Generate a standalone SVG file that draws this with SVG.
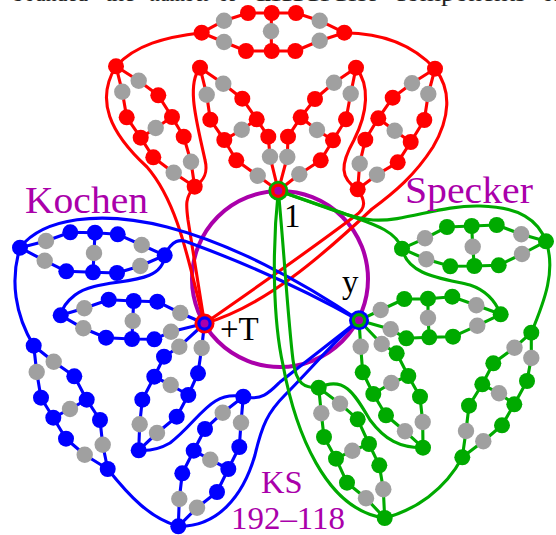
<svg xmlns="http://www.w3.org/2000/svg" width="556" height="535" viewBox="0 0 556 535">
<style>
.e{fill:none;stroke-width:3.1;stroke-linecap:round;stroke-linejoin:round}
.re{stroke:#f00}.be{stroke:#00f}.ge{stroke:#0a0}
.r{fill:#f00}.b{fill:#00f}.g{fill:#0a0}.n{fill:#a0a0a0}.p{fill:#a0a}
.nodes circle{r:8px}.nodes .n{r:8.2px}
text{font-family:"Liberation Serif","Times New Roman",serif}
.top{font-size:23px;fill:#222}
.lab{font-size:38.5px;fill:#a0a}
.ks{font-size:32.5px;fill:#a0a}
.t{font-size:33px;fill:#000}
</style>
<rect width="556" height="535" fill="#fff"/>
<g id="page-text">
<text class="top" x="13" y="0.8" textLength="75" lengthAdjust="spacingAndGlyphs">bounded</text>
<text class="top" x="105" y="0.8" textLength="30" lengthAdjust="spacingAndGlyphs">the</text>
<text class="top" x="150" y="0.8" textLength="60" lengthAdjust="spacingAndGlyphs">number</text>
<text class="top" x="218" y="0.8" textLength="18" lengthAdjust="spacingAndGlyphs">of</text>
<text class="top" x="253" y="0.8" textLength="123" lengthAdjust="spacingAndGlyphs">different</text>
<text class="top" x="394" y="0.8" textLength="132" lengthAdjust="spacingAndGlyphs">components</text>
<text class="top" x="542" y="0.8">of</text>
</g>
<circle id="circle" cx="280" cy="279" r="88" fill="none" stroke="#a0a" stroke-width="4"/>
<g id="connectors">
<g id="red-edges" class="e re">
<path d="M201.7 32.7L224 20.7L248 13L271.7 13L296 13L319.7 20.7L344.3 32.7M201.7 32.7L224 42L246 51L271.7 51L295.3 51L319.7 40.7L344.3 32.7M271.7 13L271 31.3L271.7 51"/>
<path d="M116 66.3L138.7 80.7L158.3 95.3L172 117L183.7 136.7L191 161.7L194.7 186.7M116 66.3L122.3 91.7L126.7 117.3L140.7 137.7L153.3 157.3L173.7 172.7L194.7 186.7M172 117L155.7 128L140.7 137.7"/>
<path d="M200 67.7L223.3 83.7L242.3 98.7L256.7 119.3L268.3 136.7L270 156.7L278.3 190.7M200 67.7L206.7 94.7L210.3 119.7L224.3 140L236.3 160.3L257.7 175.7L278.3 190.7M256.7 119.3L241.7 129.7L224.3 140"/>
<path d="M356 67.7L334 82.7L315 99L300.7 117.3L288 136.7L287.3 157L278.3 190.7M356 67.7L350.7 93.7L346 119.3L333 140.3L320.7 160.3L299.3 174.3L278.3 190.7M300.7 117.3L317 130L333 140.3"/>
<path d="M435 68.7L412 83.3L392.7 97.7L378.3 118.3L365.3 139.7L359.7 163.7L357.7 189.3M435 68.7L428.3 94L424.3 120L410.7 142L397.7 162.3L377 174.7L357.7 189.3M378.3 118.3L394.7 130.7L410.7 142"/>
<path d="M201.7 32.7C165 37 135 45 116 66.3"/>
<path d="M344.3 32.7C385 33 415 47 435 68.7"/>
<path d="M116 66.3C95 100 110 133 147 167C180 205 190 270 204.5 323.5"/>
<path d="M194.7 186.7C185 197 186 205 188 220L204.5 323.5"/>
<path d="M200 67.7C186 85 197 123 205 160C208 172 205 180 194.7 186.7"/>
<path d="M356 67.7C370 85 368 112 354 140C340 165 340 178 357.7 189.3"/>
<path d="M435 68.7C452 90 450 118 433 147C415 175 395 192 372 209C322 256 265 306 204.5 323.5"/>
<path d="M357.7 189.3C365 200 367 208 355 216C310 250 260 285 204.5 323.5"/>
</g>
<g id="blue-edges" class="e be">
<path d="M20 247.700L46 241L70.300 232.300L95 232.700L117.700 234.300L141.700 245L164.700 255.300M20 247.700L44.700 260.700L66.300 271.300L93 272.300L117 273L140.300 266L164.700 255.300M95 232.700L94 253L93 272.300"/>
<path d="M60.700 315.300L84.300 308.300L108.700 299.700L133.700 301L157.300 301.700L180.300 313L204.500 323.500M60.700 315.300L83.300 328.300L106 337.700L132 339L154.300 339.300L171 331.700L204.500 323.500M133.700 301L132.700 321L132 339"/>
<path d="M204.500 323.500L179.300 346.700L164 356.700L154.300 376.700L142.300 399.700L139.700 424.300L138.700 450.300M204.500 323.500L201.700 348L198 373.300L188.300 395L176.700 416.700L157 433L138.700 450.300M154.300 376.700L170.700 385L188.300 395"/>
<path d="M243.300 396.700L222.700 412.700L205 429L193.700 450.700L182.300 473.300L179.300 499L178.300 526.300M243.300 396.700L241 422.700L239.300 447L228.300 469L217 492L197 507.700L178.300 526.300M193.700 450.700L210.300 459.700L228.300 469"/>
<path d="M33.700 345.700L53.700 361.700L74.300 376.300L86.700 399.700L100 420L102.700 444.700L107.700 469M33.700 345.700L36.700 372L41 397.700L53.300 417.700L66 438.700L84.700 454.700L107.700 469M86.700 399.700L70 409L53.300 417.700"/>
<path d="M20 247.700C43 218 100 210 167 227C230 243 300 280 359 320.300"/>
<path d="M164.700 255.300C172 240 180 238 190 243C250 265 305 290 359 320.300"/>
<path d="M164.700 255.300C162 290 100 275 75 295C66 302 62 308 60.700 315.300"/>
<path d="M20 247.700C10 280 15 315 33.700 345.700"/>
<path d="M107.700 469C130 497 150 518 178.300 526.300"/>
<path d="M178.300 526.300C217 527 243 497 255 455C262 425 268 412 285 395C310 370 335 340 359 320.300"/>
<path d="M243.300 396.700C210 390 200 420 170 443C158 450 148 451 138.700 450.300"/>
<path d="M243.300 396.700C262 401 270 392 280 382L359 320.300"/>
</g>
<g id="green-edges" class="e ge">
<path d="M402 248.700L425 238.300L447 227L471.700 226L496.700 225L521.300 234.300L546 241.300M402 248.700L426.300 259.300L450.300 266.300L474.300 266L498.700 265.300L522 254L546 241.300M471.700 226L472.700 246.700L474.300 266"/>
<path d="M359 320.300L380.700 310L404.300 299L428 298.700L452.300 296.700L476.300 305.300L500.700 314.300M359 320.300L390.700 329.300L406.300 338.300L429.300 337.300L453 336.700L477.300 325.700L500.700 314.300M428 298.700L428 318L429.300 337.300"/>
<path d="M359 320.300L381.700 344L396.700 353.300L408.300 376L420 396.700L422.700 422L423 447.700M359 320.300L360.700 346.700L362.700 372.300L373.300 394L386 415.300L405 431.300L423 447.700M408.300 376L391.300 383L373.300 394"/>
<path d="M318.700 387.700L340 403.700L357.700 419.300L369 444L379.300 465.300L383.300 489.300L384.700 518M318.700 387.700L321.300 413.300L324 437L336 458.700L347 482.700L366 498.300L384.700 518M369 444L352.300 450.700L336 458.700"/>
<path d="M531.300 332.700L514.500 347.700L493.300 363.300L482.300 384.300L469 405.700L466 431L462.300 457.300M531.300 332.700L531.300 358L527 381L514.300 404.300L502 425.300L483.300 441.300L462.300 457.300M482.300 384.300L499 393.300L514.300 404.300"/>
<path d="M278.300 190.700C320 205 350 218 373 220C405 222 440 205 480 206C520 207 538 220 546 241.300"/>
<path d="M278.300 190.700L340 212C365 222 395 228 402 248.700"/>
<path d="M402 248.700C408 275 440 278 470 285C485 290 495 300 500.700 314.300"/>
<path d="M546 241.300C556 270 545 300 531.300 332.700"/>
<path d="M462.300 457.300C445 490 415 510 384.700 518"/>
<path d="M278.300 190.700C272 250 273 320 283 365C295 430 325 510 384.700 518"/>
<path d="M278.300 190.700C284 250 288 320 293 360C296 385 305 388 318.700 387.700"/>
<path d="M318.700 387.700C345 375 355 395 370 420C385 440 400 448 423 447.700"/>
</g>
</g>
<g id="red-nodes" class="nodes">
<g id="rt1"><circle class="r" cx="201.700" cy="32.700"/></g>
<g id="rt2"><circle class="r" cx="344.300" cy="32.700"/></g>
<g id="rt3"><circle class="n" cx="224" cy="20.700"/></g>
<g id="rt4"><circle class="r" cx="248" cy="13"/></g>
<g id="rt5"><circle class="r" cx="271.700" cy="13"/></g>
<g id="rt6"><circle class="r" cx="296" cy="13"/></g>
<g id="rt7"><circle class="n" cx="319.700" cy="20.700"/></g>
<g id="rt8"><circle class="n" cx="224" cy="42"/></g>
<g id="rt9"><circle class="r" cx="246" cy="51"/></g>
<g id="rt10"><circle class="r" cx="271.700" cy="51"/></g>
<g id="rt11"><circle class="r" cx="295.300" cy="51"/></g>
<g id="rt12"><circle class="n" cx="319.700" cy="40.700"/></g>
<g id="rt13"><circle class="n" cx="271" cy="31.300"/></g>
<g id="rl1"><circle class="r" cx="116" cy="66.300"/></g>
<g id="rl2"><circle class="n" cx="138.700" cy="80.700"/></g>
<g id="rl3"><circle class="n" cx="122.300" cy="91.700"/></g>
<g id="rl4"><circle class="r" cx="158.300" cy="95.300"/></g>
<g id="rl5"><circle class="r" cx="126.700" cy="117.300"/></g>
<g id="rl6"><circle class="r" cx="172" cy="117"/></g>
<g id="rl7"><circle class="n" cx="155.700" cy="128"/></g>
<g id="rl8"><circle class="r" cx="140.700" cy="137.700"/></g>
<g id="rl9"><circle class="r" cx="183.700" cy="136.700"/></g>
<g id="rl10"><circle class="r" cx="153.300" cy="157.300"/></g>
<g id="rl11"><circle class="n" cx="191" cy="161.700"/></g>
<g id="rl12"><circle class="n" cx="173.700" cy="172.700"/></g>
<g id="rl13"><circle class="r" cx="194.700" cy="186.700"/></g>
<g id="rc1"><circle class="r" cx="200" cy="67.700"/></g>
<g id="rc2"><circle class="n" cx="223.300" cy="83.700"/></g>
<g id="rc3"><circle class="n" cx="206.700" cy="94.700"/></g>
<g id="rc4"><circle class="r" cx="242.300" cy="98.700"/></g>
<g id="rc5"><circle class="r" cx="210.300" cy="119.700"/></g>
<g id="rc6"><circle class="r" cx="256.700" cy="119.300"/></g>
<g id="rc7"><circle class="n" cx="241.700" cy="129.700"/></g>
<g id="rc8"><circle class="r" cx="224.300" cy="140"/></g>
<g id="rc9"><circle class="r" cx="268.300" cy="136.700"/></g>
<g id="rc10"><circle class="r" cx="236.300" cy="160.300"/></g>
<g id="rc11"><circle class="n" cx="270" cy="156.700"/></g>
<g id="rc12"><circle class="n" cx="257.700" cy="175.700"/></g>
<g id="rd1"><circle class="r" cx="356" cy="67.700"/></g>
<g id="rd2"><circle class="n" cx="334" cy="82.700"/></g>
<g id="rd3"><circle class="n" cx="350.700" cy="93.700"/></g>
<g id="rd4"><circle class="r" cx="315" cy="99"/></g>
<g id="rd5"><circle class="r" cx="346" cy="119.300"/></g>
<g id="rd6"><circle class="r" cx="300.700" cy="117.300"/></g>
<g id="rd7"><circle class="n" cx="317" cy="130"/></g>
<g id="rd8"><circle class="r" cx="333" cy="140.300"/></g>
<g id="rd9"><circle class="r" cx="288" cy="136.700"/></g>
<g id="rd10"><circle class="r" cx="320.700" cy="160.300"/></g>
<g id="rd11"><circle class="n" cx="287.300" cy="157"/></g>
<g id="rd12"><circle class="n" cx="299.300" cy="174.300"/></g>
<g id="rr1"><circle class="r" cx="435" cy="68.700"/></g>
<g id="rr2"><circle class="n" cx="412" cy="83.300"/></g>
<g id="rr3"><circle class="n" cx="428.300" cy="94"/></g>
<g id="rr4"><circle class="r" cx="392.700" cy="97.700"/></g>
<g id="rr5"><circle class="r" cx="424.300" cy="120"/></g>
<g id="rr6"><circle class="r" cx="378.300" cy="118.300"/></g>
<g id="rr7"><circle class="n" cx="394.700" cy="130.700"/></g>
<g id="rr8"><circle class="r" cx="410.700" cy="142"/></g>
<g id="rr9"><circle class="r" cx="365.300" cy="139.700"/></g>
<g id="rr10"><circle class="r" cx="397.700" cy="162.300"/></g>
<g id="rr11"><circle class="n" cx="359.700" cy="163.700"/></g>
<g id="rr12"><circle class="n" cx="377" cy="174.700"/></g>
<g id="rr13"><circle class="r" cx="357.700" cy="189.300"/></g>
</g>
<g id="blue-nodes" class="nodes">
<g id="ba1"><circle class="b" cx="20" cy="247.700"/></g>
<g id="ba2"><circle class="n" cx="46" cy="241"/></g>
<g id="ba3"><circle class="n" cx="44.700" cy="260.700"/></g>
<g id="ba4"><circle class="b" cx="70.300" cy="232.300"/></g>
<g id="ba5"><circle class="b" cx="95" cy="232.700"/></g>
<g id="ba6"><circle class="b" cx="117.700" cy="234.300"/></g>
<g id="ba7"><circle class="n" cx="141.700" cy="245"/></g>
<g id="ba8"><circle class="n" cx="94" cy="253"/></g>
<g id="ba9"><circle class="b" cx="66.300" cy="271.300"/></g>
<g id="ba10"><circle class="b" cx="93" cy="272.300"/></g>
<g id="ba11"><circle class="b" cx="117" cy="273"/></g>
<g id="ba12"><circle class="n" cx="140.300" cy="266"/></g>
<g id="ba13"><circle class="b" cx="164.700" cy="255.300"/></g>
<g id="bb1"><circle class="b" cx="60.700" cy="315.300"/></g>
<g id="bb2"><circle class="n" cx="84.300" cy="308.300"/></g>
<g id="bb3"><circle class="n" cx="83.300" cy="328.300"/></g>
<g id="bb4"><circle class="b" cx="108.700" cy="299.700"/></g>
<g id="bb5"><circle class="b" cx="133.700" cy="301"/></g>
<g id="bb6"><circle class="b" cx="157.300" cy="301.700"/></g>
<g id="bb7"><circle class="n" cx="180.300" cy="313"/></g>
<g id="bb8"><circle class="n" cx="132.700" cy="321"/></g>
<g id="bb9"><circle class="b" cx="106" cy="337.700"/></g>
<g id="bb10"><circle class="b" cx="132" cy="339"/></g>
<g id="bb11"><circle class="b" cx="154.300" cy="339.300"/></g>
<g id="bb12"><circle class="n" cx="171" cy="331.700"/></g>
<g id="bc2"><circle class="n" cx="179.300" cy="346.700"/></g>
<g id="bc3"><circle class="n" cx="201.700" cy="348"/></g>
<g id="bc4"><circle class="b" cx="164" cy="356.700"/></g>
<g id="bc5"><circle class="b" cx="198" cy="373.300"/></g>
<g id="bc6"><circle class="b" cx="154.300" cy="376.700"/></g>
<g id="bc7"><circle class="b" cx="188.300" cy="395"/></g>
<g id="bc8"><circle class="n" cx="170.700" cy="385"/></g>
<g id="bc9"><circle class="b" cx="142.300" cy="399.700"/></g>
<g id="bc10"><circle class="b" cx="176.700" cy="416.700"/></g>
<g id="bc11"><circle class="n" cx="139.700" cy="424.300"/></g>
<g id="bc12"><circle class="n" cx="157" cy="433"/></g>
<g id="bc13"><circle class="b" cx="138.700" cy="450.300"/></g>
<g id="bd1"><circle class="b" cx="243.300" cy="396.700"/></g>
<g id="bd2"><circle class="n" cx="222.700" cy="412.700"/></g>
<g id="bd3"><circle class="n" cx="241" cy="422.700"/></g>
<g id="bd4"><circle class="b" cx="205" cy="429"/></g>
<g id="bd5"><circle class="b" cx="239.300" cy="447"/></g>
<g id="bd6"><circle class="b" cx="193.700" cy="450.700"/></g>
<g id="bd7"><circle class="n" cx="210.300" cy="459.700"/></g>
<g id="bd8"><circle class="b" cx="228.300" cy="469"/></g>
<g id="bd9"><circle class="b" cx="182.300" cy="473.300"/></g>
<g id="bd10"><circle class="b" cx="217" cy="492"/></g>
<g id="bd11"><circle class="n" cx="179.300" cy="499"/></g>
<g id="bd12"><circle class="n" cx="197" cy="507.700"/></g>
<g id="bd13"><circle class="b" cx="178.300" cy="526.300"/></g>
<g id="be1"><circle class="b" cx="33.700" cy="345.700"/></g>
<g id="be2"><circle class="n" cx="53.700" cy="361.700"/></g>
<g id="be3"><circle class="n" cx="36.700" cy="372"/></g>
<g id="be4"><circle class="b" cx="74.300" cy="376.300"/></g>
<g id="be5"><circle class="b" cx="41" cy="397.700"/></g>
<g id="be6"><circle class="b" cx="86.700" cy="399.700"/></g>
<g id="be7"><circle class="n" cx="70" cy="409"/></g>
<g id="be8"><circle class="b" cx="53.300" cy="417.700"/></g>
<g id="be9"><circle class="b" cx="100" cy="420"/></g>
<g id="be10"><circle class="b" cx="66" cy="438.700"/></g>
<g id="be11"><circle class="n" cx="102.700" cy="444.700"/></g>
<g id="be12"><circle class="n" cx="84.700" cy="454.700"/></g>
<g id="be13"><circle class="b" cx="107.700" cy="469"/></g>
</g>
<g id="green-nodes" class="nodes">
<g id="ga1"><circle class="g" cx="402" cy="248.700"/></g>
<g id="ga2"><circle class="n" cx="425" cy="238.300"/></g>
<g id="ga3"><circle class="n" cx="426.300" cy="259.300"/></g>
<g id="ga4"><circle class="g" cx="447" cy="227"/></g>
<g id="ga5"><circle class="g" cx="471.700" cy="226"/></g>
<g id="ga6"><circle class="g" cx="496.700" cy="225"/></g>
<g id="ga7"><circle class="n" cx="521.300" cy="234.300"/></g>
<g id="ga8"><circle class="n" cx="472.700" cy="246.700"/></g>
<g id="ga9"><circle class="g" cx="450.300" cy="266.300"/></g>
<g id="ga10"><circle class="g" cx="474.300" cy="266"/></g>
<g id="ga11"><circle class="g" cx="498.700" cy="265.300"/></g>
<g id="ga12"><circle class="n" cx="522" cy="254"/></g>
<g id="ga13"><circle class="g" cx="546" cy="241.300"/></g>
<g id="gb2"><circle class="n" cx="380.700" cy="310"/></g>
<g id="gb3"><circle class="n" cx="390.700" cy="329.300"/></g>
<g id="gb4"><circle class="g" cx="404.300" cy="299"/></g>
<g id="gb5"><circle class="g" cx="428" cy="298.700"/></g>
<g id="gb6"><circle class="g" cx="452.300" cy="296.700"/></g>
<g id="gb7"><circle class="n" cx="476.300" cy="305.300"/></g>
<g id="gb8"><circle class="n" cx="428" cy="318"/></g>
<g id="gb9"><circle class="g" cx="406.300" cy="338.300"/></g>
<g id="gb10"><circle class="g" cx="429.300" cy="337.300"/></g>
<g id="gb11"><circle class="g" cx="453" cy="336.700"/></g>
<g id="gb12"><circle class="n" cx="477.300" cy="325.700"/></g>
<g id="gb13"><circle class="g" cx="500.700" cy="314.300"/></g>
<g id="gc2"><circle class="n" cx="381.700" cy="344"/></g>
<g id="gc3"><circle class="n" cx="360.700" cy="346.700"/></g>
<g id="gc4"><circle class="g" cx="396.700" cy="353.300"/></g>
<g id="gc5"><circle class="g" cx="362.700" cy="372.300"/></g>
<g id="gc6"><circle class="g" cx="408.300" cy="376"/></g>
<g id="gc7"><circle class="g" cx="373.300" cy="394"/></g>
<g id="gc8"><circle class="n" cx="391.300" cy="383"/></g>
<g id="gc9"><circle class="g" cx="420" cy="396.700"/></g>
<g id="gc10"><circle class="g" cx="386" cy="415.300"/></g>
<g id="gc11"><circle class="n" cx="422.700" cy="422"/></g>
<g id="gc12"><circle class="n" cx="405" cy="431.300"/></g>
<g id="gc13"><circle class="g" cx="423" cy="447.700"/></g>
<g id="gd1"><circle class="g" cx="318.700" cy="387.700"/></g>
<g id="gd2"><circle class="n" cx="340" cy="403.700"/></g>
<g id="gd3"><circle class="n" cx="321.300" cy="413.300"/></g>
<g id="gd4"><circle class="g" cx="357.700" cy="419.300"/></g>
<g id="gd5"><circle class="g" cx="324" cy="437"/></g>
<g id="gd6"><circle class="g" cx="369" cy="444"/></g>
<g id="gd7"><circle class="n" cx="352.300" cy="450.700"/></g>
<g id="gd8"><circle class="g" cx="336" cy="458.700"/></g>
<g id="gd9"><circle class="g" cx="379.300" cy="465.300"/></g>
<g id="gd10"><circle class="g" cx="347" cy="482.700"/></g>
<g id="gd11"><circle class="n" cx="383.300" cy="489.300"/></g>
<g id="gd12"><circle class="n" cx="366" cy="498.300"/></g>
<g id="gd13"><circle class="g" cx="384.700" cy="518"/></g>
<g id="ge1"><circle class="g" cx="531.300" cy="332.700"/></g>
<g id="ge2"><circle class="n" cx="514.500" cy="347.700"/></g>
<g id="ge3"><circle class="n" cx="531.300" cy="358"/></g>
<g id="ge4"><circle class="g" cx="493.300" cy="363.300"/></g>
<g id="ge5"><circle class="g" cx="527" cy="381"/></g>
<g id="ge6"><circle class="g" cx="482.300" cy="384.300"/></g>
<g id="ge7"><circle class="n" cx="499" cy="393.300"/></g>
<g id="ge8"><circle class="g" cx="514.300" cy="404.300"/></g>
<g id="ge9"><circle class="g" cx="469" cy="405.700"/></g>
<g id="ge10"><circle class="g" cx="502" cy="425.300"/></g>
<g id="ge11"><circle class="n" cx="466" cy="431"/></g>
<g id="ge12"><circle class="n" cx="483.300" cy="441.300"/></g>
<g id="ge13"><circle class="g" cx="462.300" cy="457.300"/></g>
</g>
<g id="hub-1"><circle class="g" cx="278.300" cy="190.700" r="10"/><circle class="r" cx="278.300" cy="190.700" r="7.200"/><circle class="p" cx="278.300" cy="190.700" r="4"/></g>
<g id="hub-T"><circle class="r" cx="204.500" cy="323.500" r="10"/><circle class="b" cx="204.500" cy="323.500" r="7.200"/><circle class="p" cx="204.500" cy="323.500" r="4"/></g>
<g id="hub-y"><circle class="b" cx="359" cy="320.300" r="10"/><circle class="g" cx="359" cy="320.300" r="7.200"/><circle class="p" cx="359" cy="320.300" r="4"/></g>
<g id="labels">
<text class="lab" x="25" y="212.500" textLength="123" lengthAdjust="spacingAndGlyphs">Kochen</text>
<text class="lab" x="405" y="203" textLength="128" lengthAdjust="spacingAndGlyphs">Specker</text>
<text class="t" x="284" y="226.500">1</text>
<text class="t" x="220" y="340">+T</text>
<text class="t" x="342" y="293">y</text>
<text class="ks" x="261" y="493">KS</text>
<text class="ks" x="231" y="528.500" textLength="114" lengthAdjust="spacingAndGlyphs">192–118</text>
</g>
</svg>
